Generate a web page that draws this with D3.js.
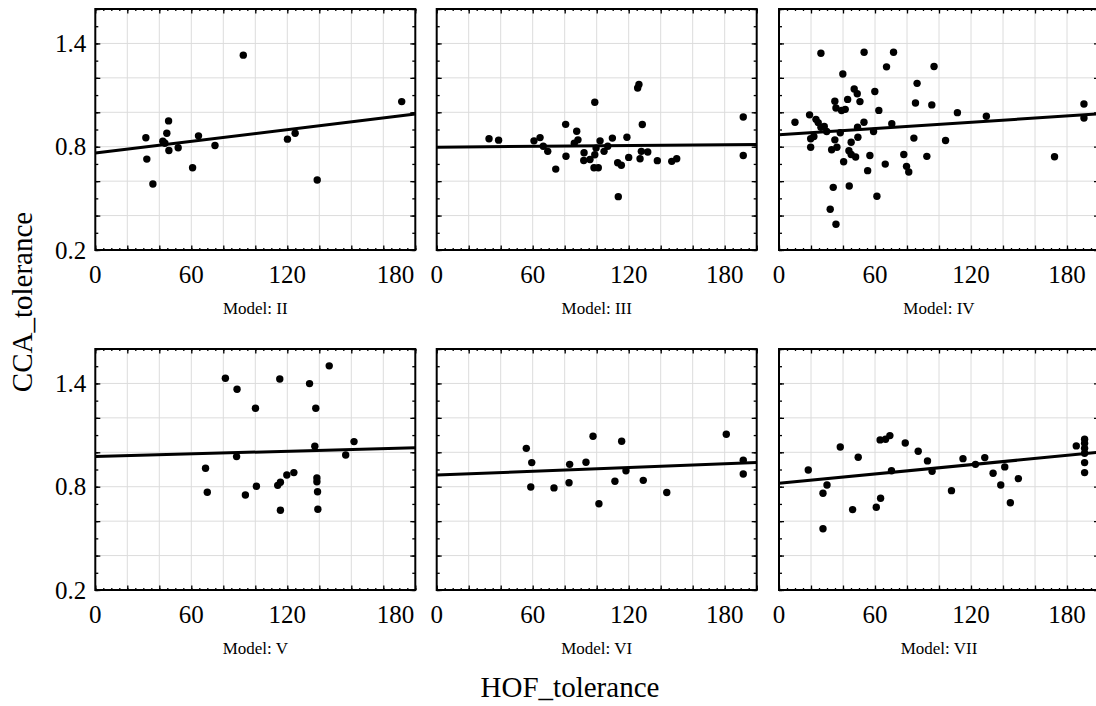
<!DOCTYPE html>
<html>
<head>
<meta charset="utf-8">
<script src="https://cdn.jsdelivr.net/npm/d3@7"></script>
<style>
	body { margin: 0; background: #fff; }
	svg { display: block; }
	.grid line { stroke: #dcdcdc; stroke-width: 1; }
	.axis path { display: none; }
	.axis line { stroke: #000; stroke-width: 1.3; }
</style>
</head>
<body>
<div id="chart-area"></div>
<script>
// Models shown in the panels (row by row)
let models = ["II", "III", "IV", "V", "VI", "VII"];

// HOF_tolerance / CCA_tolerance per model
let hofII = [31.6, 32.2, 36, 42.2, 44.7, 45.8, 46, 43.5, 51.8, 60.8, 64.5, 74.8, 92.5, 120.1, 124.9, 138.7, 191.5];
let ccaII = [0.852, 0.728, 0.583, 0.832, 0.878, 0.95, 0.778, 0.82, 0.794, 0.678, 0.863, 0.807, 1.332, 0.844, 0.878, 0.607, 1.062];

let hofIII = [32.7, 38.7, 60.8, 64.6, 66.6, 69.4, 74.4, 80.6, 80.8, 87.5, 88.3, 86, 92.1, 91.9, 95.8, 98.8, 98.8, 98.3, 101, 99.6,
	102.1, 104.6, 106.9, 109.8, 113.1, 113.5, 115.4, 118.9, 120, 125.6, 126.4, 127.1, 127.9, 128.5, 131.9, 137.9, 146.9, 150, 191.6, 191.6];
let ccaIII = [0.846, 0.838, 0.834, 0.853, 0.803, 0.773, 0.67, 0.93, 0.745, 0.89, 0.84, 0.82, 0.765, 0.72, 0.726, 1.058, 0.753, 0.678, 0.678, 0.792,
	0.834, 0.773, 0.803, 0.85, 0.707, 0.51, 0.692, 0.855, 0.738, 1.141, 1.162, 0.73, 0.773, 0.929, 0.769, 0.719, 0.715, 0.73, 0.973, 0.749];

let hofIV = [10, 19.1, 19.8, 19.8, 21.8, 23.1, 24.5, 26.2, 26.2, 28.3, 29.8, 32, 32.9, 33.9, 34.9, 34.9, 35.6, 36.2, 35.6, 38.3,
	39.1, 39.9, 40.4, 41.4, 42.9, 43.7, 43.9, 45.1, 45.1, 47, 47.9, 48.9, 49.3, 49.1, 50.6, 53.1, 53.2, 55.4, 56.8, 59.1,
	59.9, 61.2, 62.4, 66.4, 67.2, 70.5, 71.6, 78, 79.7, 81.1, 84.3, 85.3, 86.3, 92.4, 95.5, 96.9, 104.1, 111.5, 129.6, 172.2,
	190.6, 190.6];
let ccaIV = [0.942, 0.985, 0.846, 0.797, 0.859, 0.959, 0.94, 1.343, 0.913, 0.917, 0.888, 0.437, 0.782, 0.564, 1.064, 0.84, 0.35, 0.797, 1.025, 0.881,
	1.01, 1.222, 0.713, 1.017, 1.075, 0.777, 0.572, 0.826, 0.755, 1.135, 0.74, 1.108, 0.855, 0.913, 1.062, 0.942, 1.349, 0.661, 0.749, 0.888,
	1.121, 0.512, 1.011, 0.699, 1.264, 0.933, 1.349, 0.755, 0.686, 0.653, 0.85, 1.054, 1.168, 0.744, 1.043, 1.266, 0.836, 0.998, 0.977, 0.742,
	1.048, 0.967];

let hofV = [68.9, 70, 81.3, 88.6, 88.3, 93.8, 100.1, 100.7, 114, 115.7, 115.7, 115.3, 119.7, 124.1, 133.9, 137.8, 137.2, 138.5, 138.5, 138.9,
	139.1, 146.2, 156.5, 161.7];
let ccaV = [0.907, 0.768, 1.43, 1.366, 0.975, 0.752, 1.256, 0.803, 0.808, 0.826, 0.663, 1.426, 0.868, 0.882, 1.399, 1.256, 1.035, 0.851, 0.829, 0.771,
	0.669, 1.502, 0.984, 1.062];

let hofVI = [56, 59.4, 58.8, 73.3, 83.1, 82.7, 93.3, 97.7, 101.4, 111.4, 115.6, 118.3, 129.1, 143.8, 181, 191.6, 191.6];
let ccaVI = [1.023, 0.94, 0.798, 0.793, 0.93, 0.823, 0.942, 1.093, 0.701, 0.832, 1.064, 0.893, 0.837, 0.766, 1.105, 0.954, 0.874];

let hofVII = [18.3, 27.5, 27.5, 30, 38.3, 46, 49.5, 60.8, 63.5, 63.2, 66.6, 69.3, 70.3, 78.9, 87, 92.8, 95.7, 107.8, 115, 122.8,
	128.6, 133.8, 138.6, 141.1, 144.6, 149.6, 185.8, 191, 191, 191, 191, 191, 191];
let ccaVII = [0.897, 0.762, 0.556, 0.81, 1.031, 0.667, 0.971, 0.681, 0.733, 1.072, 1.076, 1.097, 0.893, 1.054, 1.006, 0.95, 0.89, 0.777, 0.963, 0.93,
	0.969, 0.878, 0.81, 0.915, 0.707, 0.847, 1.037, 1.076, 1.052, 1.023, 0.994, 0.94, 0.882];

// Fitted line, CCA value at HOF = 0 and at HOF = 200
let fitStart = [0.763, 0.797, 0.869, 0.975, 0.868, 0.82];
let fitEnd = [0.99, 0.813, 0.991, 1.027, 0.94, 1.0];

// Tick labels
let xTickLabels = [0, 60, 120, 180];
let yTickLabels = [0.2, 0.8, 1.4];

let hofData = [hofII, hofIII, hofIV, hofV, hofVI, hofVII];
let ccaData = [ccaII, ccaIII, ccaIV, ccaV, ccaVI, ccaVII];

let serif = "'Liberation Serif', 'Times New Roman', serif";

// Layout
let panelWidth = 320, panelHeight = 241;
let colLeft = [95.3, 436.7, 779];
let rowTop = [9, 349];

let svg = d3.select("#chart-area")
	.append("svg")
	.attr("width", 1096)
	.attr("height", 706);

// Scales (same for every panel)
let x = d3.scaleLinear()
	.domain([0, 200])
	.range([0, panelWidth]);
let y = d3.scaleLinear()
	.domain([0.2, 1.6])
	.range([panelHeight, 0]);

let xMinor = d3.range(0, 201, 5);
let xMajor = d3.range(0, 201, 20);
let yMinor = d3.range(2, 17).map(d => d / 10);
let yMajor = d3.range(1, 9).map(d => d / 5);

models.forEach((model, i) => {
	let col = i % 3, row = Math.floor(i / 3);
	let g = svg.append("g")
		.attr("transform", "translate(" + colLeft[col] + "," + rowTop[row] + ")");

	// Grid
	let grid = g.append("g").attr("class", "grid");
	grid.selectAll(".gx")
		.data(xMajor.slice(1, -1))
		.enter()
		.append("line")
		.attr("x1", d => x(d)).attr("x2", d => x(d))
		.attr("y1", 0).attr("y2", panelHeight);
	grid.selectAll(".gy")
		.data(yMajor.slice(1, -1))
		.enter()
		.append("line")
		.attr("x1", 0).attr("x2", panelWidth)
		.attr("y1", d => y(d)).attr("y2", d => y(d));

	// Inward ticks on all four sides
	let addTicks = (axisFn, scale, values, size, transform) => {
		g.append("g")
			.attr("class", "axis")
			.attr("transform", transform)
			.call(axisFn(scale).tickValues(values).tickSize(size).tickFormat(""));
	};
	addTicks(d3.axisBottom, x, xMinor, -2, "translate(0," + panelHeight + ")");
	addTicks(d3.axisBottom, x, xMajor, -4.5, "translate(0," + panelHeight + ")");
	addTicks(d3.axisTop, x, xMinor, -2, "translate(0,0)");
	addTicks(d3.axisTop, x, xMajor, -4.5, "translate(0,0)");
	addTicks(d3.axisLeft, y, yMinor, -3, "translate(0,0)");
	addTicks(d3.axisLeft, y, yMajor, -5, "translate(0,0)");
	addTicks(d3.axisRight, y, yMinor, -3, "translate(" + panelWidth + ",0)");
	addTicks(d3.axisRight, y, yMajor, -5, "translate(" + panelWidth + ",0)");

	// Frame
	g.append("rect")
		.attr("width", panelWidth)
		.attr("height", panelHeight)
		.attr("fill", "none")
		.attr("stroke", "#000")
		.attr("stroke-width", 2);

	// Fitted line
	g.append("line")
		.attr("x1", x(0)).attr("y1", y(fitStart[i]))
		.attr("x2", x(200)).attr("y2", y(fitEnd[i]))
		.attr("stroke", "#000")
		.attr("stroke-width", 3);

	// Points
	g.selectAll(".dot")
		.data(hofData[i].map((h, k) => ({hof: h, cca: ccaData[i][k]})))
		.enter()
		.append("circle")
		.attr("class", "dot")
		.attr("cx", d => x(d.hof))
		.attr("cy", d => y(d.cca))
		.attr("r", 3.7)
		.attr("fill", "#000");

	// X tick labels
	g.selectAll(".xlab")
		.data(xTickLabels)
		.enter()
		.append("text")
		.attr("x", (d, k) => (col === 0 && k === xTickLabels.length - 1) ? panelWidth - 1 : x(d))
		.attr("y", panelHeight + 33)
		.attr("text-anchor", (d, k) => (col === 0 && k === xTickLabels.length - 1) ? "end" : "middle")
		.attr("font-family", serif)
		.attr("font-size", 25)
		.text(d => d);

	// Y tick labels (first column only)
	if (col === 0) {
		g.selectAll(".ylab")
			.data(yTickLabels)
			.enter()
			.append("text")
			.attr("x", -9)
			.attr("y", d => y(d))
			.attr("dy", "0.35em")
			.attr("text-anchor", "end")
			.attr("font-family", serif)
			.attr("font-size", 25)
			.text(d => d.toFixed(1));
	}

	// Panel caption
	g.append("text")
		.attr("x", panelWidth / 2)
		.attr("y", panelHeight + 64)
		.attr("text-anchor", "middle")
		.attr("font-family", serif)
		.attr("font-size", 17)
		.text("Model: " + model);
});

// Axis titles
svg.append("text")
	.attr("transform", "translate(32,302) rotate(-90)")
	.attr("text-anchor", "middle")
	.attr("font-family", serif)
	.attr("font-size", 29)
	.text("CCA_tolerance");

svg.append("text")
	.attr("x", 570)
	.attr("y", 697)
	.attr("text-anchor", "middle")
	.attr("font-family", serif)
	.attr("font-size", 29)
	.text("HOF_tolerance");
</script>
</body>
</html>
